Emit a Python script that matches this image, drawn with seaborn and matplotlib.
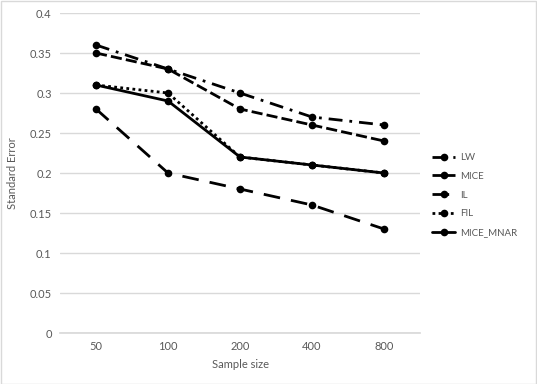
import matplotlib
matplotlib.use("Agg")
import matplotlib.pyplot as plt
import seaborn as sns
import pandas as pd
from matplotlib.patches import Rectangle

sample_sizes = ["50", "100", "200", "400", "800"]
lw = [0.36, 0.33, 0.30, 0.27, 0.26]
mice = [0.35, 0.33, 0.28, 0.26, 0.24]
il = [0.28, 0.20, 0.18, 0.16, 0.13]
fil = [0.31, 0.30, 0.22, 0.21, 0.20]
mice_mnar = [0.31, 0.29, 0.22, 0.21, 0.20]
series_names = ["LW", "MICE", "IL", "FIL", "MICE_MNAR"]

rows = []
for name, vals in zip(series_names, [lw, mice, il, fil, mice_mnar]):
    for i, (s, v) in enumerate(zip(sample_sizes, vals)):
        rows.append({"pos": i, "Sample size": s, "value": v, "series": name})
df = pd.DataFrame(rows)

sns.set_theme(style="white")
plt.rcParams["font.family"] = ["Lato", "DejaVu Sans"]
text_color = "#595959"

fig = plt.figure(figsize=(5.37, 3.84), dpi=100)
ax = fig.add_axes([60/537, 1-333/384, 360/537, 320/384])

dashes = {
    "LW": (5, 2.5, 1, 2.5),
    "MICE": (4, 1.5),
    "IL": (6, 4),
    "FIL": (1, 1.2),
    "MICE_MNAR": "",
}
palette = {n: "black" for n in series_names}
sns.lineplot(data=df, x="pos", y="value", hue="series", style="series",
             dashes=dashes, markers={n: "o" for n in series_names},
             palette=palette, linewidth=2, markersize=5.5,
             markeredgewidth=0, ax=ax, legend=True)

ax.set_xlim(-0.5, 4.5)
ax.set_ylim(0, 0.4)
ax.set_yticks([0, 0.05, 0.1, 0.15, 0.2, 0.25, 0.3, 0.35, 0.4])
ax.set_yticklabels(["0", "0.05", "0.1", "0.15", "0.2", "0.25", "0.3", "0.35", "0.4"])
ax.set_xticks(range(len(sample_sizes)))
ax.set_xticklabels(sample_sizes)
ax.grid(axis="y", color="#d9d9d9", linewidth=1)
ax.set_axisbelow(True)
for sp in ["top", "right", "left"]:
    ax.spines[sp].set_visible(False)
ax.spines["bottom"].set_color("#d9d9d9")
ax.tick_params(axis="both", length=0, labelsize=8, colors=text_color, pad=6)
ax.set_xlabel("Sample size", fontsize=8, color=text_color, labelpad=5)
ax.set_ylabel("Standard Error", fontsize=8, color=text_color, labelpad=8)

handles, labels = ax.get_legend_handles_labels()
leg = ax.legend(handles, labels, loc="center left", bbox_to_anchor=(430/537, 1-195/384),
                bbox_transform=fig.transFigure, frameon=False, fontsize=7,
                handlelength=2.4, labelspacing=1.0, handletextpad=0.5,
                borderaxespad=0, borderpad=0.2)
for t in leg.get_texts():
    t.set_color(text_color)

fig.patches.append(Rectangle((0.001, 0.001), 0.997, 0.997, transform=fig.transFigure,
                             fill=False, edgecolor="#d9d9d9", linewidth=1))
fig.savefig("out.png", dpi=100)
